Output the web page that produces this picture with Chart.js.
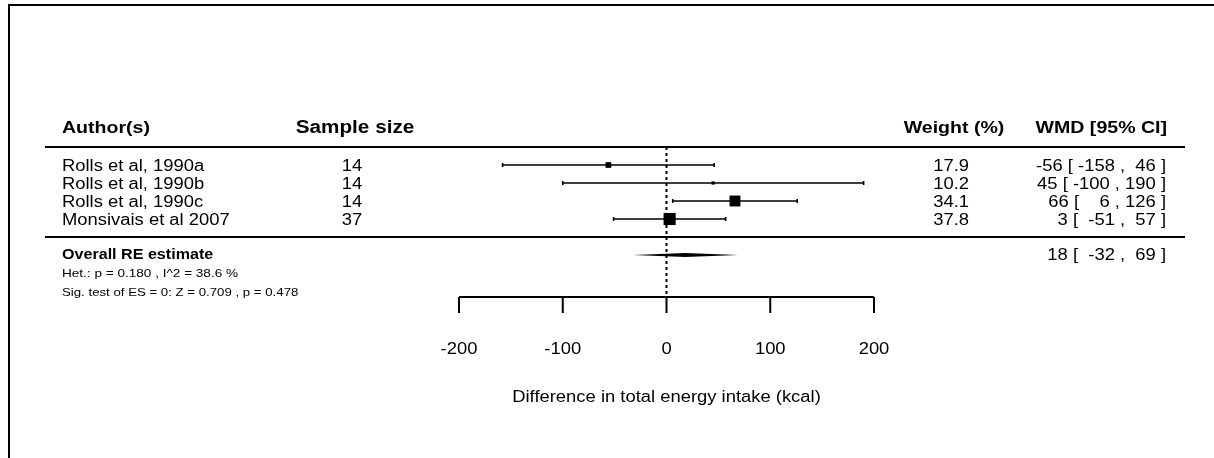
<!DOCTYPE html>
<html>
<head>
<meta charset="utf-8">
<script src="https://cdn.jsdelivr.net/npm/chart.js@4"></script>
<style>
  html, body { margin: 0; padding: 0; background: #fff; }
  #wrap { width: 1214px; height: 458px; position: relative; }
</style>
</head>
<body>
<div id="wrap"><canvas id="forest"></canvas></div>
<script>
// forest plot data
const authors = ["Rolls et al, 1990a", "Rolls et al, 1990b", "Rolls et al, 1990c", "Monsivais et al 2007"];
const sampleSizes = [14, 14, 14, 37];
const weights = [17.9, 10.2, 34.1, 37.8];
const estimates = [-56, 45, 66, 3];
const ciLower = [-158, -100, 6, -51];
const ciUpper = [46, 190, 126, 57];
const reEstimate = 18, reLower = -32, reUpper = 69;
const xTicks = [-200, -100, 0, 100, 200];
const headers = ["Author(s)", "Sample size", "Weight (%)", "WMD [95% CI]"];
const hetText = "Het.: p = 0.180 , I^2 = 38.6 %";
const sigText = "Sig. test of ES = 0: Z = 0.709 , p = 0.478";
const xTitle = "Difference in total energy intake (kcal)";

const FONT = '"Liberation Sans", Arial, sans-serif';
const SX = 1.15; // text in the picture is a bit stretched horizontally

function txt(ctx, s, x, y, align, font) {
  ctx.save();
  ctx.font = font;
  ctx.textBaseline = "middle";
  ctx.fillStyle = "#000";
  ctx.translate(x, y + 1.5);
  ctx.scale(SX, 1);
  ctx.textAlign = align || "left";
  ctx.fillText(s, 0, 0);
  ctx.restore();
}

function hline(ctx, x1, x2, y, w) {
  ctx.beginPath();
  ctx.lineWidth = w;
  ctx.moveTo(x1, y); ctx.lineTo(x2, y);
  ctx.stroke();
}

// "est [ lo , hi ]" padded like R's formatC, then right aligned
function ciLabel(est, lo, hi) {
  return `${est} [ ${String(lo).padStart(4)} , ${String(hi).padStart(3)} ]`;
}

const forestPlugin = {
  id: "forest",
  beforeDatasetsDraw(chart) {
    const ctx = chart.ctx, xs = chart.scales.x, ys = chart.scales.y;
    const X = v => xs.getPixelForValue(v), Y = v => ys.getPixelForValue(v);
    const n = authors.length;
    ctx.save();
    ctx.strokeStyle = "#000";
    ctx.fillStyle = "#000";

    // frame (only top + left are inside the picture)
    ctx.lineWidth = 2;
    ctx.beginPath();
    ctx.moveTo(9, 458); ctx.lineTo(9, 5); ctx.lineTo(1214, 5);
    ctx.stroke();

    // separator lines
    hline(ctx, 45, 1185, Y(-1), 2);
    hline(ctx, 45, 1185, Y(n), 2);

    // zero line (dotted)
    const axisY = Y(7.33);
    ctx.save();
    ctx.setLineDash([3, 3]);
    ctx.lineWidth = 2;
    ctx.beginPath();
    ctx.moveTo(X(0), Y(-1)); ctx.lineTo(X(0), axisY);
    ctx.stroke();
    ctx.restore();

    // confidence intervals
    ctx.lineWidth = 1.6;
    authors.forEach((a, i) => {
      const y = Y(i);
      ctx.beginPath();
      ctx.moveTo(X(ciLower[i]), y); ctx.lineTo(X(ciUpper[i]), y);
      ctx.moveTo(X(ciLower[i]), y - 2); ctx.lineTo(X(ciLower[i]), y + 2);
      ctx.moveTo(X(ciUpper[i]), y - 2); ctx.lineTo(X(ciUpper[i]), y + 2);
      ctx.stroke();
    });

    // pooled estimate diamond
    const yd = Y(n + 1);
    ctx.beginPath();
    ctx.moveTo(X(reLower), yd);
    ctx.lineTo(X(reEstimate), yd - 2);
    ctx.lineTo(X(reUpper), yd);
    ctx.lineTo(X(reEstimate), yd + 2);
    ctx.closePath();
    ctx.fill();

    // x axis
    hline(ctx, X(xTicks[0]), X(xTicks[xTicks.length - 1]), axisY, 2);
    ctx.lineWidth = 2;
    ctx.beginPath();
    xTicks.forEach(t => { ctx.moveTo(X(t), axisY); ctx.lineTo(X(t), axisY + 16); });
    ctx.stroke();
    xTicks.forEach(t => txt(ctx, String(t), X(t), 348, "center", "16px " + FONT));
    txt(ctx, xTitle, X(0), 396, "center", "16px " + FONT);

    // headers
    const hy = 127;
    txt(ctx, headers[0], 62, hy, "left", "bold 17px " + FONT);
    txt(ctx, headers[1], 355, hy, "center", "bold 18px " + FONT);
    txt(ctx, headers[2], 954, hy, "center", "bold 17px " + FONT);
    txt(ctx, headers[3], 1167, hy, "right", "bold 17px " + FONT);

    // study rows
    const rf = "16px " + FONT;
    authors.forEach((a, i) => {
      const y = Y(i);
      txt(ctx, a, 62, y, "left", rf);
      txt(ctx, String(sampleSizes[i]), 352, y, "center", rf);
      txt(ctx, weights[i].toFixed(1), 969, y, "right", rf);
      txt(ctx, ciLabel(estimates[i], ciLower[i], ciUpper[i]), 1166, y, "right", rf);
    });

    // overall row + test statistics
    const oy = Y(n + 1);
    txt(ctx, "Overall RE estimate", 62, oy - 1, "left", "bold 14px " + FONT);
    txt(ctx, ciLabel(reEstimate, reLower, reUpper), 1166, oy - 1, "right", rf);
    txt(ctx, hetText, 62, 272, "left", "11.8px " + FONT);
    txt(ctx, sigText, 62, 291, "left", "11.5px " + FONT);

    ctx.restore();
  }
};

// scale ranges chosen so the whole canvas is the plot area
const pxPerUnit = (874 - 459) / 400, zeroPx = 666.5;
const rowPx = 18, firstRowPx = 165;
const boxRadius = weights.map(w => (0.32 * w) / 2 / Math.SQRT1_2);

new Chart(document.getElementById("forest").getContext("2d"), {
  type: "scatter",
  data: {
    datasets: [{
      data: estimates.map((e, i) => ({ x: e, y: i })),
      pointStyle: "rect",
      // box side roughly proportional to the weight
      pointRadius: boxRadius,
      pointHoverRadius: boxRadius,
      pointBackgroundColor: "#000",
      pointBorderWidth: 0,
    }]
  },
  options: {
    responsive: true,
    maintainAspectRatio: false,
    animation: false,
    layout: { padding: 0, autoPadding: false },
    plugins: { legend: { display: false }, tooltip: { enabled: false } },
    scales: {
      x: { type: "linear", display: false, min: -zeroPx / pxPerUnit, max: (1214 - zeroPx) / pxPerUnit },
      y: { type: "linear", display: false, reverse: true, min: -firstRowPx / rowPx, max: (458 - firstRowPx) / rowPx }
    }
  },
  plugins: [forestPlugin]
});
</script>
</body>
</html>
